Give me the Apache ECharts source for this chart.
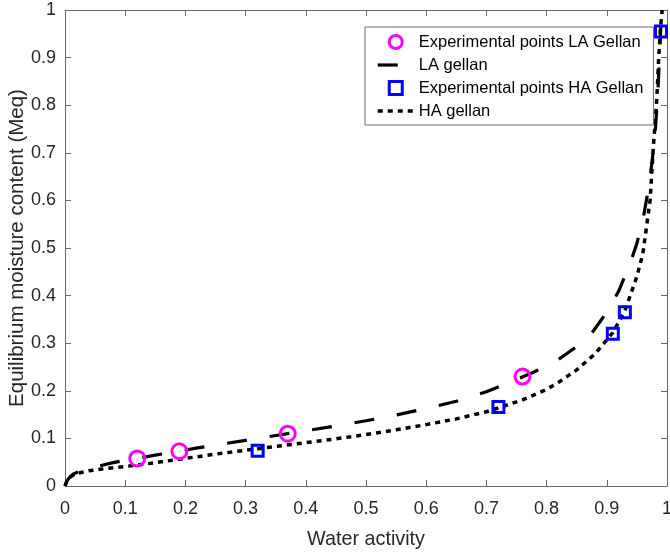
<!DOCTYPE html>
<html><head><meta charset="utf-8">
<script src="https://cdn.jsdelivr.net/npm/echarts@6/dist/echarts.min.js"></script>
<style>html,body{margin:0;padding:0;background:#fff}#c{width:670px;height:553px}</style>
</head><body><div id="c"></div>
<script>
// Experimental points
const laPointsX = [0.12, 0.19, 0.37, 0.76];
const laPointsY = [0.058, 0.073, 0.11, 0.23];
const haPointsX = [0.32, 0.72, 0.91, 0.93, 0.99];
const haPointsY = [0.074, 0.166, 0.32, 0.365, 0.955];
// Fitted curves
const laCurveX = [0, 0.003, 0.008, 0.015, 0.025, 0.04, 0.06, 0.08, 0.1, 0.12, 0.15, 0.19, 0.22, 0.26, 0.3, 0.35, 0.4, 0.45, 0.5, 0.55, 0.6, 0.65, 0.7, 0.74, 0.78, 0.82, 0.85, 0.875, 0.9, 0.92, 0.94, 0.95, 0.96, 0.97, 0.975, 0.98, 0.985, 0.988, 0.991];
const laCurveY = [0, 0.010, 0.019, 0.026, 0.031, 0.036, 0.043, 0.049, 0.054, 0.058, 0.065, 0.073, 0.080, 0.088, 0.096, 0.106, 0.116, 0.126, 0.137, 0.149, 0.163, 0.178, 0.198, 0.218, 0.240, 0.266, 0.293, 0.321, 0.365, 0.41, 0.472, 0.51, 0.559, 0.63, 0.68, 0.735, 0.832, 0.916, 1.0];
const haCurveX = [0, 0.003, 0.008, 0.015, 0.025, 0.04, 0.07, 0.1, 0.12, 0.15, 0.2, 0.25, 0.3, 0.35, 0.4, 0.45, 0.5, 0.55, 0.6, 0.65, 0.7, 0.72, 0.76, 0.8, 0.82, 0.85, 0.88, 0.91, 0.93, 0.95, 0.96, 0.972, 0.977, 0.983, 0.986, 0.989, 0.992];
const haCurveY = [0, 0.010, 0.018, 0.024, 0.028, 0.032, 0.037, 0.041, 0.044, 0.049, 0.058, 0.067, 0.075, 0.083, 0.091, 0.099, 0.108, 0.118, 0.129, 0.141, 0.156, 0.164, 0.181, 0.203, 0.218, 0.244, 0.277, 0.322, 0.368, 0.44, 0.489, 0.601, 0.706, 0.811, 0.895, 0.96, 1.0];
const seriesNames = ['Experimental points LA Gellan', 'LA gellan', 'Experimental points HA Gellan', 'HA gellan'];
const axisMin = 0, axisMax = 1, axisStep = 0.1;
const xName = 'Water activity';
const yName = 'Equilibrium moisture content (Meq)';

const zip = (xs, ys) => xs.map((x, i) => [x, ys[i]]);
const FONT = '"Liberation Sans", Arial, Helvetica, sans-serif';
const AX = '#6a6a6a';
const TXT = '#262626';
const laDash = [20, 23];
const haDash = [5, 5];
const SQUARE = 'path://M0,0L10,0L10,10L0,10Z';

const baseAxis = {
  type: 'value', min: axisMin, max: axisMax, interval: axisStep,
  nameMoveOverlap: false,
  axisLine: { show: true, onZero: false, lineStyle: { color: AX, width: 1 } },
  axisTick: { show: true, inside: true, length: 6, lineStyle: { color: AX, width: 1 } },
  splitLine: { show: false },
  axisLabel: { color: TXT, fontSize: 18, fontFamily: FONT },
  nameTextStyle: { color: TXT, fontSize: 19.8, fontFamily: FONT }
};

const chart = echarts.init(document.getElementById('c'), null, { renderer: 'canvas' });
chart.setOption({
  animation: false,
  backgroundColor: '#fff',
  textStyle: { fontFamily: FONT },
  grid: { left: 65, right: 3, top: 10, bottom: 67, containLabel: false, outerBoundsMode: 'none' },
  legend: {
    orient: 'vertical', left: 365, top: 27,
    padding: [1, 10, 0, 11],
    itemWidth: 36, itemHeight: 13, itemGap: -5,
    symbolKeepAspect: true,
    borderColor: AX, borderWidth: 1, backgroundColor: '#fff',
    textStyle: { color: '#000', fontSize: 16.5, lineHeight: 19, padding: [9, 0, 0, 0], fontFamily: FONT },
    data: [
      { name: seriesNames[0], icon: 'circle', itemStyle: { color: 'transparent', borderColor: '#ff00ff', borderWidth: 3 } },
      { name: seriesNames[1], itemStyle: { opacity: 0 }, lineStyle: { color: '#000', width: 3.2, type: laDash } },
      { name: seriesNames[2], icon: SQUARE, itemStyle: { color: 'transparent', borderColor: '#0000ff', borderWidth: 3 } },
      { name: seriesNames[3], itemStyle: { opacity: 0 }, lineStyle: { color: '#000', width: 3.5, type: haDash } }
    ]
  },
  xAxis: [
    Object.assign({}, baseAxis, { position: 'bottom', name: xName, nameLocation: 'middle', nameGap: 44,
      axisLabel: Object.assign({}, baseAxis.axisLabel, { margin: 14 }) }),
    Object.assign({}, baseAxis, { position: 'top', axisLabel: { show: false } })
  ],
  yAxis: [
    Object.assign({}, baseAxis, { position: 'left', name: yName, nameLocation: 'middle', nameGap: 37,
      nameTextStyle: Object.assign({}, baseAxis.nameTextStyle, { fontSize: 20.5 }),
      axisLabel: Object.assign({}, baseAxis.axisLabel, { margin: 9 }) }),
    Object.assign({}, baseAxis, { position: 'right', axisLabel: { show: false } })
  ],
  series: [
    { name: seriesNames[1], type: 'line', data: zip(laCurveX, laCurveY), showSymbol: false, symbol: 'none',
      lineStyle: { color: '#000', width: 3.2, type: laDash, cap: 'butt' }, itemStyle: { color: '#000' }, z: 2 },
    { name: seriesNames[3], type: 'line', data: zip(haCurveX, haCurveY), showSymbol: false, symbol: 'none',
      lineStyle: { color: '#000', width: 3.5, type: haDash, cap: 'butt' }, itemStyle: { color: '#000' }, z: 2 },
    { name: seriesNames[0], type: 'scatter', data: zip(laPointsX, laPointsY), symbol: 'circle', symbolSize: 15,
      itemStyle: { color: 'transparent', borderColor: '#ff00ff', borderWidth: 3, opacity: 1 }, z: 3 },
    { name: seriesNames[2], type: 'scatter', data: zip(haPointsX, haPointsY), symbol: 'rect', symbolSize: 11,
      itemStyle: { color: 'transparent', borderColor: '#0000ff', borderWidth: 3, opacity: 1 }, z: 3 }
  ]
});
</script>
</body></html>
